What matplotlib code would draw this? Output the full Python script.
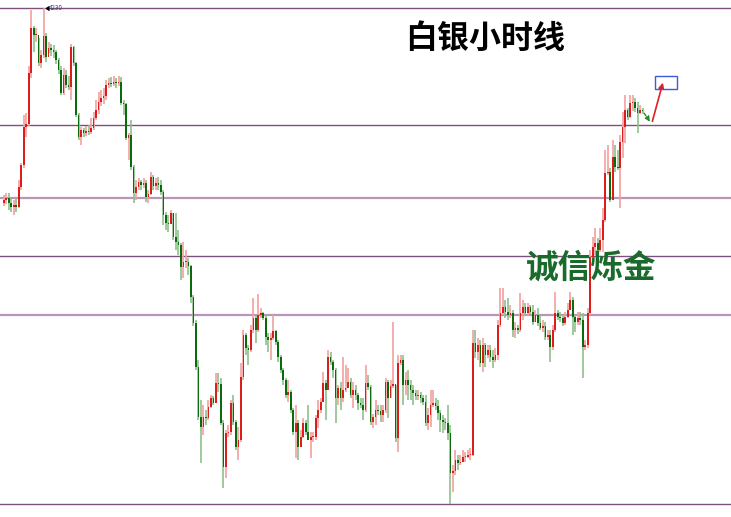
import numpy as np
import matplotlib.pyplot as plt
from matplotlib.patches import Rectangle

plt.rcParams['font.family'] = ['Noto Sans CJK SC', 'DejaVu Sans']

# hourly candles (open of each bar = previous close)
first_open = 317
close = [320, 322, 317, 313, 315, 313, 333, 355, 393, 396, 447, 492, 485, 485, 457, 465,
         484, 463, 472, 470, 468, 460, 450, 427, 445, 435, 433, 473, 457, 405, 383, 390,
         387, 389, 388, 392, 402, 410, 418, 422, 424, 435, 437, 436, 438, 437, 438, 417,
         416, 382, 385, 353, 327, 333, 338, 335, 337, 323, 326, 343, 334, 337, 335, 328,
         305, 297, 296, 307, 283, 278, 275, 253, 258, 258, 254, 223, 197, 153, 103, 93,
         103, 102, 113, 122, 117, 137, 136, 97, 53, 87, 88, 117, 98, 73, 80, 143,
         185, 172, 170, 190, 202, 190, 205, 207, 202, 183, 180, 182, 189, 178, 163, 150,
         140, 125, 128, 110, 88, 97, 73, 83, 97, 88, 80, 83, 83, 102, 110, 118,
         137, 130, 163, 158, 150, 122, 132, 122, 130, 132, 138, 125, 130, 125, 117, 115,
         110, 137, 133, 98, 103, 110, 109, 105, 110, 138, 122, 134, 136, 82, 157, 160,
         135, 140, 135, 130, 127, 124, 125, 122, 118, 97, 105, 115, 117, 114, 107, 100,
         98, 97, 87, 47, 49, 60, 57, 58, 63, 63, 65, 65, 177, 168, 175, 157,
         175, 165, 170, 163, 160, 165, 195, 207, 213, 208, 205, 207, 190, 192, 190, 207,
         213, 207, 213, 208, 198, 205, 197, 192, 194, 183, 185, 173, 190, 207, 203, 202,
         197, 203, 210, 220, 203, 198, 202, 200, 173, 175, 207, 263, 273, 277, 270, 280,
         300, 347, 348, 320, 363, 353, 352, 378, 393, 410, 403, 417, 418, 412, 407, 410,
         409]
high = [325, 327, 327, 322, 320, 323, 340, 357, 405, 407, 454, 510, 494, 492, 482, 470,
        512, 487, 478, 476, 475, 470, 462, 454, 452, 450, 444, 476, 474, 458, 407, 393,
        392, 394, 395, 402, 408, 420, 428, 430, 432, 440, 442, 443, 444, 442, 444, 443,
        420, 417, 387, 400, 355, 340, 342, 340, 342, 340, 330, 348, 345, 342, 343, 340,
        330, 308, 305, 310, 307, 307, 290, 277, 278, 270, 262, 255, 225, 200, 160, 120,
        115, 110, 120, 125, 124, 147, 147, 142, 100, 90, 95, 120, 125, 100, 93, 157,
        190, 187, 175, 195, 222, 205, 226, 212, 208, 204, 187, 187, 205, 190, 180, 165,
        152, 142, 140, 130, 112, 115, 100, 90, 102, 100, 115, 88, 88, 105, 120, 122,
        148, 140, 170, 168, 160, 152, 135, 138, 163, 155, 152, 142, 138, 135, 127, 122,
        122, 155, 145, 135, 106, 120, 115, 115, 115, 142, 140, 140, 198, 135, 165, 165,
        165, 148, 150, 140, 135, 130, 130, 128, 125, 125, 112, 130, 130, 122, 120, 110,
        105, 102, 115, 95, 55, 70, 65, 65, 70, 68, 70, 72, 190, 190, 182, 180,
        182, 177, 175, 175, 170, 172, 200, 232, 232, 220, 222, 215, 210, 198, 195, 227,
        220, 217, 217, 215, 215, 210, 212, 204, 200, 198, 190, 190, 195, 228, 210, 208,
        205, 208, 217, 228, 223, 205, 208, 208, 207, 180, 212, 270, 283, 292, 282, 292,
        312, 370, 375, 352, 380, 375, 370, 385, 408, 425, 412, 425, 425, 422, 418, 415,
        412]
low = [314, 316, 310, 308, 305, 308, 312, 330, 352, 383, 394, 442, 468, 478, 454, 452,
       462, 458, 467, 464, 462, 456, 446, 425, 425, 432, 430, 420, 454, 403, 380, 375,
       383, 384, 385, 386, 390, 400, 406, 414, 416, 420, 432, 433, 434, 432, 434, 415,
       405, 380, 360, 350, 317, 320, 330, 330, 332, 318, 317, 325, 330, 330, 330, 325,
       295, 290, 288, 300, 280, 270, 265, 240, 242, 252, 245, 217, 194, 150, 100, 57,
       85, 95, 100, 112, 115, 120, 128, 95, 32, 42, 83, 85, 95, 70, 60, 78,
       140, 165, 155, 168, 187, 177, 188, 202, 200, 175, 168, 160, 180, 175, 158, 147,
       135, 122, 118, 107, 85, 62, 60, 75, 82, 85, 80, 62, 78, 80, 92, 107,
       118, 100, 130, 155, 142, 97, 115, 110, 118, 128, 134, 122, 112, 120, 110, 112,
       100, 108, 130, 95, 92, 95, 105, 98, 98, 107, 102, 122, 132, 78, 68, 155,
       115, 125, 120, 120, 115, 120, 120, 117, 115, 94, 90, 93, 113, 110, 100, 88,
       87, 90, 80, 16, 28, 45, 50, 55, 58, 58, 62, 60, 64, 162, 160, 153,
       148, 153, 162, 158, 152, 158, 160, 193, 205, 202, 200, 202, 183, 182, 186, 188,
       200, 204, 204, 206, 195, 198, 194, 190, 188, 180, 180, 158, 170, 188, 200, 198,
       194, 195, 202, 210, 185, 188, 195, 195, 142, 170, 172, 205, 258, 265, 267, 268,
       268, 298, 345, 318, 345, 348, 350, 312, 362, 377, 400, 402, 409, 408, 387, 406,
       406]

# support / resistance levels
levels_dark = [512, 395, 264, 16]
levels_light = [322, 205]

title_text = "白银小时线"
brand_text = "诚信烁金"
peak_label = "4230"

close = np.array(close)
high = np.array(high)
low = np.array(low)
opens = np.concatenate([[first_open], close[:-1]])
idx = np.arange(len(close))
up = close >= opens

fig = plt.figure(figsize=(7.31, 5.17), dpi=100)
ax = fig.add_axes([0, 0, 1, 1])
ax.set_xlim(-1.5, 291.4)
ax.set_ylim(3, 520)
ax.axis("off")

for lv in levels_dark:
    ax.axhline(lv, color="#7d4f7d", lw=1.0, zorder=1)
for lv in levels_light:
    ax.axhline(lv, color="#b796b7", lw=1.6, zorder=1)

# wicks
ax.vlines(idx[up], low[up], high[up], color="#f2a0a0", lw=1.2, zorder=2)
ax.vlines(idx[~up], low[~up], high[~up], color="#8fc08f", lw=1.2, zorder=2)

# bodies
body_lo = np.minimum(opens, close)
body_h = np.maximum(np.abs(close - opens), 1.5)
ax.bar(idx[up], body_h[up], bottom=body_lo[up], width=0.65, color="#dd1c1c", zorder=3)
ax.bar(idx[~up], body_h[~up], bottom=body_lo[~up], width=0.65, color="#0b6a0b", zorder=3)

# peak price tag
top = int(np.argmax(high))
ax.plot(idx[top] + 0.8, high[top], marker=4, ms=3, color="black", zorder=4)
ax.text(idx[top] + 2.2, high[top], peak_label, fontsize=4.5, color="#3c3c8c",
        va="center", ha="left", zorder=4)

# forecast arrows and target box
last = len(close) - 1
turn = (last + 3.6, close[-1] - 13)
ax.annotate("", xy=turn, xytext=(last, close[-1]),
            arrowprops=dict(arrowstyle="-|>", color="#2e8b2e", lw=1.0,
                            linestyle=(0, (2, 1)), mutation_scale=7))
ax.annotate("", xy=(last + 8.4, close[-1] + 31), xytext=turn,
            arrowprops=dict(arrowstyle="-|>", color="#e02020", lw=1.2,
                            mutation_scale=8))
ax.add_patch(Rectangle((last + 4.8, close[-1] + 22), 8.8, 13, fill=False,
                       edgecolor="#3b5bdb", lw=1.0, zorder=5))

ax.text(0.663, 0.925, title_text, transform=ax.transAxes, fontsize=23,
        fontweight="bold", color="black", ha="center", va="center")
ax.text(0.809, 0.481, brand_text, transform=ax.transAxes, fontsize=23.5,
        fontweight="bold", color="#1a6a2c", ha="center", va="center")

fig.savefig("out.png", dpi=100)
